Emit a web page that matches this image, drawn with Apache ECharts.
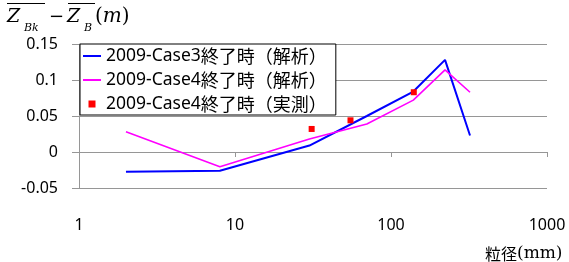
<!DOCTYPE html>
<html><head><meta charset="utf-8">
<script src="https://cdn.jsdelivr.net/npm/echarts@6/dist/echarts.min.js"></script>
<style>html,body{margin:0;padding:0;background:#fff}#c{width:569px;height:262px}</style>
</head><body><div id="c"></div>
<script>
const seriesNames = ['2009-Case3終了時（解析）', '2009-Case4終了時（解析）', '2009-Case4終了時（実測）'];
const case3X = [2, 8, 30, 70, 139, 222, 321];
const case3Y = [-0.0275, -0.026, 0.009, 0.050, 0.084, 0.128, 0.023];
const case4X = [2, 8, 30, 70, 139, 222, 321];
const case4Y = [0.028, -0.0205, 0.018, 0.039, 0.072, 0.114, 0.083];
const measX = [31, 55, 140];
const measY = [0.032, 0.044, 0.083];
const yTicks = [-0.05, 0, 0.05, 0.1, 0.15];
const xTicks = [1, 10, 100, 1000];

const zip = (xs, ys) => xs.map((x, i) => [x, ys[i]]);
const chart = echarts.init(document.getElementById('c'), null, {renderer: 'canvas'});
const latin = '"Noto Sans", sans-serif';
const cjk = '"Noto Sans CJK JP", sans-serif';
const serif = '"DejaVu Serif", "Liberation Serif", serif';
const gray = '#969696';
const lineIcon = 'path://M0,0h18v2h-18z';

chart.setOption({
  animation: false,
  grid: {left: 79, right: 22, top: 44, bottom: 74},
  xAxis: [{
    type: 'log', logBase: 10, min: xTicks[0], max: xTicks[xTicks.length - 1],
    position: 'bottom',
    axisLine: {onZero: true, lineStyle: {color: gray, width: 1}},
    axisTick: {show: true, length: 5, inside: false, lineStyle: {color: gray}},
    axisLabel: {show: false},
    splitLine: {show: false}, minorTick: {show: false}
  }, {
    type: 'log', logBase: 10, min: xTicks[0], max: xTicks[xTicks.length - 1],
    position: 'bottom',
    axisLine: {show: false, onZero: false},
    axisTick: {show: false},
    axisLabel: {show: true, margin: 29, fontSize: 16, color: '#000', fontFamily: latin,
      formatter: v => String(v)},
    splitLine: {show: false}
  }],
  yAxis: {
    type: 'value', min: yTicks[0], max: yTicks[yTicks.length - 1], interval: 0.05,
    axisLine: {show: true, lineStyle: {color: gray}},
    axisTick: {show: true, length: 7, lineStyle: {color: gray}},
    axisLabel: {margin: 21, fontSize: 16, color: '#000', fontFamily: latin,
      formatter: v => String(Math.round(v * 100) / 100)},
    splitLine: {show: true, lineStyle: {color: gray, width: 1}}
  },
  legend: {
    orient: 'vertical', left: 80, top: 44,
    backgroundColor: '#fff', borderColor: '#000', borderWidth: 1,
    padding: [2, 9, 1, 3], itemGap: 4, itemWidth: 18, itemHeight: 7, itemTextGap: 2,
    symbolKeepAspect: true,
    formatter: name => {
      const i = name.indexOf('終');
      return '{a|' + name.slice(0, i) + '}{b|' + name.slice(i) + '}';
    },
    textStyle: {fontSize: 18, color: '#000', lineHeight: 20,
      rich: {a: {fontSize: 17.5, fontFamily: latin, lineHeight: 20}, b: {fontSize: 18, fontFamily: cjk, lineHeight: 20}}},
    data: [
      {name: seriesNames[0], icon: lineIcon},
      {name: seriesNames[1], icon: lineIcon},
      {name: seriesNames[2], icon: 'path://M0,0h1v1h-1z'}
    ]
  },
  series: [{
    name: seriesNames[0], type: 'line', xAxisIndex: 0, data: zip(case3X, case3Y),
    symbol: 'none', lineStyle: {color: '#0000ff', width: 2}, itemStyle: {color: '#0000ff'}, z: 3
  }, {
    name: seriesNames[1], type: 'line', xAxisIndex: 0, data: zip(case4X, case4Y),
    symbol: 'none', lineStyle: {color: '#ff00ff', width: 1.6}, itemStyle: {color: '#ff00ff'}, z: 3
  }, {
    name: seriesNames[2], type: 'scatter', xAxisIndex: 0, data: zip(measX, measY),
    symbol: 'rect', symbolSize: 6, itemStyle: {color: '#ff0000', opacity: 1}, z: 4
  }],
  graphic: [
    {type: 'text', left: 7, top: 8, style: {text: 'Z', font: 'italic 19px ' + serif, fill: '#000'}},
    {type: 'text', left: 24, top: 23, style: {text: 'Bk', font: 'italic 11px ' + serif, fill: '#000'}},
    {type: 'text', left: 49, top: 8, style: {text: '−', font: '18px ' + serif, fill: '#000'}},
    {type: 'text', left: 67, top: 8, style: {text: 'Z', font: 'italic 19px ' + serif, fill: '#000'}},
    {type: 'text', left: 84, top: 23, style: {text: 'B', font: 'italic 11px ' + serif, fill: '#000'}},
    {type: 'text', left: 95, top: 7, style: {
      text: '{p|(}{m|m}{p|)}',
      rich: {p: {fontSize: 20, fontFamily: serif, fill: '#000'}, m: {fontSize: 20, fontFamily: serif, fontStyle: 'italic', fill: '#000'}}
    }},
    {type: 'line', shape: {x1: 7, y1: 3.5, x2: 45, y2: 3.5}, style: {stroke: '#000', lineWidth: 1}},
    {type: 'line', shape: {x1: 68, y1: 3.5, x2: 95, y2: 3.5}, style: {stroke: '#000', lineWidth: 1}},
    {type: 'text', left: 485, top: 245, style: {
      text: '{a|粒径}{b|(mm)}',
      rich: {a: {fontSize: 16, fontFamily: cjk, fill: '#000'}, b: {fontSize: 17, fontFamily: serif, fill: '#000'}}
    }}
  ]
});
</script></body></html>
